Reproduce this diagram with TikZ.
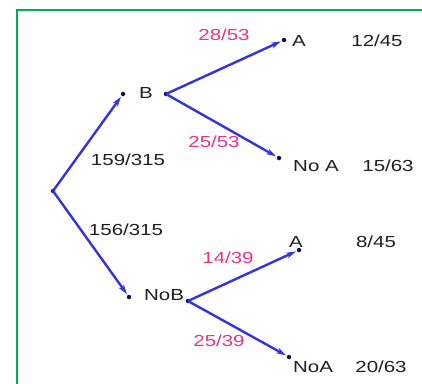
\documentclass[tikz,border=0pt]{standalone}
\usepackage{fontspec}
\setmainfont{Liberation Sans}
\newfontfamily\widesans[FakeStretch=1.28]{Liberation Sans}
\usetikzlibrary{arrows.meta}
\definecolor{frameg}{HTML}{00B050}
\definecolor{lineb}{HTML}{3434DC}
\definecolor{dotn}{HTML}{10104A}
\definecolor{pinkt}{HTML}{E8358C}
\begin{document}
\begin{tikzpicture}[x=1pt,y=-1pt,
  dot/.style={circle,fill=dotn,inner sep=0pt,minimum size=4.5pt},
  br/.style={draw=lineb,line width=2.4pt,-{Stealth[length=10pt,width=6pt]},shorten >=1pt},
  lbl/.style={font=\widesans\fontsize{16pt}{18pt}\selectfont,text=black!88,inner sep=0pt},
  plbl/.style={lbl,text=pinkt}]
\useasboundingbox (0,0) rectangle (422,383);
\fill[white] (0,0) rectangle (422,383);
\draw[frameg,line width=2.2pt] (17,384) -- (17,10) -- (423,10);
% nodes
\node[dot] (root) at (53,191) {};
\node[dot] (B) at (123,94) {};
\node[dot] (Bs) at (166,94) {};
\node[dot] (A1) at (284,40) {};
\node[dot] (NA1) at (279,158) {};
\node[dot] (NB) at (129,297) {};
\node[dot] (NBs) at (188,301) {};
\node[dot] (A2) at (299,250) {};
\node[dot] (NA2) at (289,357) {};
% connectors
\draw[br] (root.center) -- (B);
\draw[br] (Bs.center) -- (A1);
\draw[br] (Bs.center) -- (NA1);
\draw[br] (root.center) -- (NB);
\draw[br] (NBs.center) -- (A2);
\draw[br] (NBs.center) -- (NA2);
% labels
\node[lbl] (tB) at (146,93) {B};
\node[lbl] (tA1) at (299,41) {A};
\node[lbl] (p1) at (377,41) {12/45};
\node[lbl] (tNA1) at (316,166) {No A};
\node[lbl] (p2) at (388,166) {15/63};
\node[plbl] (q1) at (224,35) {28/53};
\node[plbl] (q2) at (214,142) {25/53};
\node[lbl] (r1) at (128,160) {159/315};
\node[lbl] (r2) at (126,230) {156/315};
\node[lbl] (tNB) at (164,295) {NoB};
\node[lbl] (tA2) at (296,242) {A};
\node[lbl] (p3) at (376,242) {8/45};
\node[plbl] (q3) at (228,258) {14/39};
\node[lbl] (tNA2) at (313,367) {NoA};
\node[lbl] (p4) at (381,367) {20/63};
\node[plbl] (q4) at (219,341) {25/39};
\end{tikzpicture}
\end{document}
